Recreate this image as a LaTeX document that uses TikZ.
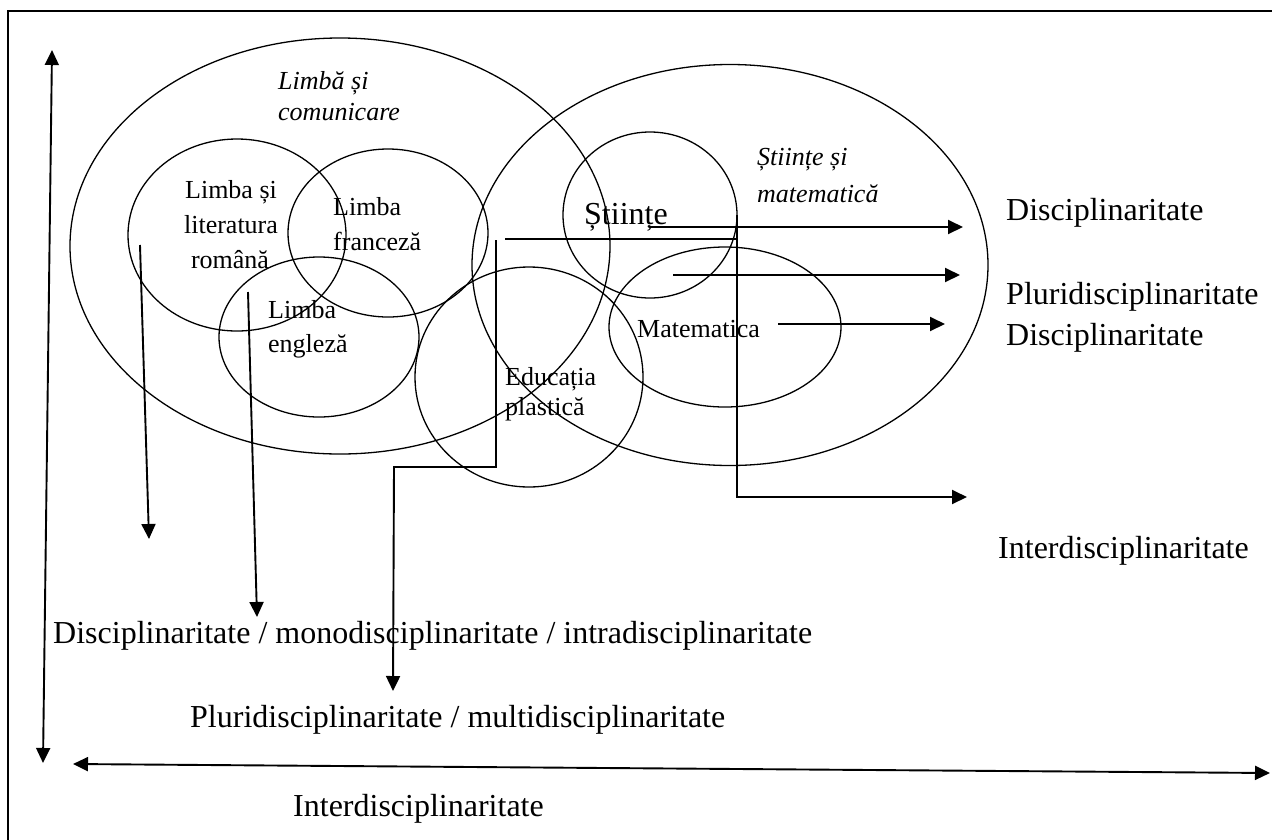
\documentclass[tikz,border=0pt]{standalone}
\usepackage{fontspec}
\setmainfont{Liberation Serif}
\usetikzlibrary{arrows.meta,shapes.geometric}
\begin{document}
\begin{tikzpicture}[x=1pt,y=-1pt,
  ell/.style={draw, ellipse, line width=1.3pt, inner sep=0pt},
  conn/.style={line width=1.9pt},
  arr/.style={conn, -{Triangle[length=15pt,width=14pt]}},
  darr/.style={conn, {Triangle[length=15pt,width=14pt]}-{Triangle[length=15pt,width=14pt]}},
  sm/.style={inner sep=0pt, anchor=base west, font=\fontsize{26}{30}\selectfont},
  smi/.style={sm, font=\itshape\fontsize{26}{30}\selectfont},
  smc/.style={sm, anchor=base},
  lg/.style={inner sep=0pt, anchor=base west, font=\fontsize{32}{36}\selectfont},
]
\useasboundingbox (0,0) rectangle (1272,839);
% frame
\draw[line width=1.2pt] (1290,11) -- (8,11) -- (8,860);

% ellipses
\node[ell, minimum width=540pt, minimum height=416pt] (lsc) at (340,246) {};
\node[ell, minimum width=218pt, minimum height=192pt] (llr) at (237,235) {};
\node[ell, minimum width=200pt, minimum height=168pt] (lf) at (388,233) {};
\node[ell, minimum width=200pt, minimum height=160pt] (le) at (319,337) {};
\node[ell, minimum width=228pt, minimum height=220pt] (ep) at (529,377) {};
\node[ell, minimum width=516pt, minimum height=401pt] (sm) at (730,265) {};
\node[ell, minimum width=174pt, minimum height=166pt] (st) at (650,215) {};
\node[ell, minimum width=232pt, minimum height=160pt] (mt) at (725,327) {};

% labels inside
\node[smi] (lsc1) at (278,89) {Limbă și};
\node[smi] (lsc2) at (278,120) {comunicare};
\node[smc] (llr1) at (231,198) {Limba și};
\node[smc] (llr2) at (231,233) {literatura};
\node[smc] (llr3) at (230,268) {română};
\node[sm] (lf1) at (333,215) {Limba};
\node[sm] (lf2) at (333,250) {franceză};
\node[sm] (le1) at (268,318) {Limba};
\node[sm] (le2) at (268,352) {engleză};
\node[sm] (ep1) at (505,385) {Educația};
\node[sm] (ep2) at (505,415) {plastică};
\node[sm, font=\fontsize{32}{36}\selectfont] (stl) at (584,224) {Științe};
\node[smi] (sm1) at (757,165) {Științe și};
\node[smi] (sm2) at (757,202) {matematică};
\node[sm] (mat) at (637,337) {Matematica};

% right labels
\node[lg] (r1) at (1006,220) {Disciplinaritate};
\node[lg] (r2) at (1006,304) {Pluridisciplinaritate};
\node[lg] (r3) at (1006,345) {Disciplinaritate};
\node[lg] (r4) at (998,558) {Interdisciplinaritate};

% bottom labels
\node[lg] (b1) at (53,643) {Disciplinaritate / monodisciplinaritate / intradisciplinaritate};
\node[lg] (b2) at (190,727) {Pluridisciplinaritate / multidisciplinaritate};
\node[lg] (b3) at (293,816) {Interdisciplinaritate};

% coordinates
\coordinate (va1) at (52,50);  \coordinate (va2) at (43,763);
\coordinate (ha1) at (73,764); \coordinate (ha2) at (1270,773);
\coordinate (a1s) at (650,227); \coordinate (a1e) at (963,227);
\coordinate (a2s) at (673,275); \coordinate (a2e) at (960,275);
\coordinate (a3s) at (778,324); \coordinate (a3e) at (945,324);
\coordinate (h1) at (505,239);  \coordinate (h2) at (737,239);
\coordinate (v1) at (737,215);  \coordinate (v2) at (737,497); \coordinate (v3) at (967,497);
\coordinate (s1) at (496,240);  \coordinate (s2) at (496,467);
\coordinate (s3) at (394,467);  \coordinate (s4) at (393,691);
\coordinate (d1s) at (140,245); \coordinate (d1e) at (149,539);
\coordinate (d2s) at (248,292); \coordinate (d2e) at (257,617);

% connectors
\draw[darr] (va2) -- (va1);
\draw[darr] (ha1) -- (ha2);
\draw[arr] (a1s) -- (a1e);
\draw[arr] (a2s) -- (a2e);
\draw[arr] (a3s) -- (a3e);
\draw[conn] (h1) -- (h2);
\draw[arr] (v1) -- (v2) -- (v3);
\draw[arr] (s1) -- (s2) -- (s3) -- (s4);
\draw[arr] (d1s) -- (d1e);
\draw[arr] (d2s) -- (d2e);
\end{tikzpicture}
\end{document}
